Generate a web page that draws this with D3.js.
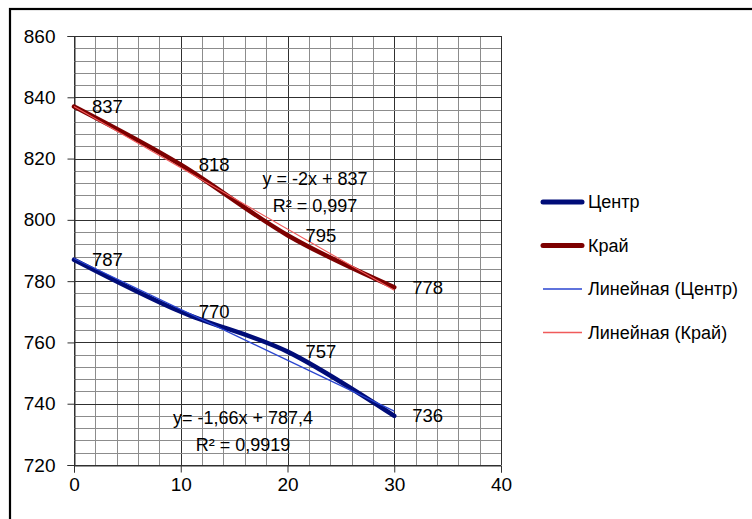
<!DOCTYPE html>
<html>
<head>
<meta charset="utf-8">
<script src="https://cdn.jsdelivr.net/npm/d3@7"></script>
<style>
  html, body { margin: 0; padding: 0; background: #fff; }
  svg { display: block; }
  text { font-family: "Liberation Sans", Arial, sans-serif; fill: #000; }
</style>
</head>
<body>
<svg id="chart" width="752" height="519"></svg>
<script>
// ---- data ----
const xValues = [0, 10, 20, 30];
const centerValues = [787, 770, 757, 736];
const edgeValues = [837, 818, 795, 778];
const seriesNames = ["Центр", "Край"];
const trendNames = ["Линейная (Центр)", "Линейная (Край)"];
const centerTrend = { slope: -1.66, intercept: 787.4 };
const edgeTrend = { slope: -2, intercept: 837 };
const centerEquation = ["y= -1,66x + 787,4", "R² = 0,9919"];
const edgeEquation = ["y = -2x + 837", "R² = 0,997"];
const xTicks = [0, 10, 20, 30, 40];
const yTicks = [720, 740, 760, 780, 800, 820, 840, 860];

// ---- layout ----
const svg = d3.select("#chart");
const plot = { left: 74, right: 501, top: 36, bottom: 465 };
const x = d3.scaleLinear().domain([0, 40]).range([plot.left, plot.right]);
const y = d3.scaleLinear().domain([720, 860]).range([plot.bottom, plot.top]);

const colCenter = "#000c78";
const colEdge = "#7d0000";
const colCenterTrend = "#2a45d0";
const colEdgeTrend = "#f05a5a";

// outer chart border (extends past the viewport on right/bottom)
svg.append("rect")
  .attr("x", 10).attr("y", 9).attr("width", 800).attr("height", 600)
  .attr("fill", "#fff").attr("stroke", "#000").attr("stroke-width", 2.2);

// gridlines
const g = svg.append("g");
d3.range(0, 40.001, 2).forEach(v => {
  const major = v % 10 === 0;
  g.append("line")
    .attr("x1", Math.round(x(v)) + 0.5).attr("x2", Math.round(x(v)) + 0.5)
    .attr("y1", plot.top).attr("y2", plot.bottom)
    .attr("stroke", major ? "#303030" : "#8c8c8c").attr("stroke-width", 1);
});
d3.range(720, 860.001, 4).forEach(v => {
  const major = v % 20 === 0;
  g.append("line")
    .attr("y1", Math.round(y(v)) + 0.5).attr("y2", Math.round(y(v)) + 0.5)
    .attr("x1", plot.left).attr("x2", plot.right)
    .attr("stroke", major ? "#303030" : "#8c8c8c").attr("stroke-width", 1);
});

// axes
const yAxis = d3.axisLeft(y).tickValues(yTicks).tickSize(7).tickPadding(12);
const xAxis = d3.axisBottom(x).tickValues(xTicks).tickSize(7).tickPadding(5);
const ya = svg.append("g").attr("transform", `translate(${plot.left + 0.5},0)`).call(yAxis);
const xa = svg.append("g").attr("transform", `translate(0,${plot.bottom + 0.5})`).call(xAxis);
[ya, xa].forEach(a => {
  a.select(".domain").attr("stroke", "#303030");
  a.selectAll(".tick line").attr("stroke", "#303030");
  a.selectAll("text").style("font-size", "19px").attr("fill", "#000");
});
xa.selectAll("text").attr("dy", "0.71em");

// series lines (smoothed)
const line = d3.line().x(d => x(d[0])).y(d => y(d[1])).curve(d3.curveCardinal.tension(0));
const centerData = xValues.map((v, i) => [v, centerValues[i]]);
const edgeData = xValues.map((v, i) => [v, edgeValues[i]]);

svg.append("path").datum(centerData).attr("d", line)
  .attr("fill", "none").attr("stroke", colCenter).attr("stroke-width", 4.5).attr("stroke-linecap", "round");
svg.append("path").datum(edgeData).attr("d", line)
  .attr("fill", "none").attr("stroke", colEdge).attr("stroke-width", 4.5).attr("stroke-linecap", "round");

// trendlines
function trendPts(t) {
  const x0 = d3.min(xValues), x1 = d3.max(xValues);
  return [[x0, t.intercept + t.slope * x0], [x1, t.intercept + t.slope * x1]];
}
const straight = d3.line().x(d => x(d[0])).y(d => y(d[1]));
svg.append("path").datum(trendPts(centerTrend)).attr("d", straight)
  .attr("fill", "none").attr("stroke", colCenterTrend).attr("stroke-width", 1.3);
svg.append("path").datum(trendPts(edgeTrend)).attr("d", straight)
  .attr("fill", "none").attr("stroke", colEdgeTrend).attr("stroke-width", 1.1);

// data labels
function labels(data) {
  svg.append("g").selectAll("text").data(data).join("text")
    .attr("x", d => x(d[0]) + 18)
    .attr("y", d => y(d[1]))
    .attr("dy", "0.35em")
    .style("font-size", "18.5px")
    .text(d => d[1]);
}
labels(centerData);
labels(edgeData);

// equations
function equation(lines, cx, cy) {
  svg.append("g").selectAll("text").data(lines).join("text")
    .attr("x", cx).attr("y", (d, i) => cy + i * 27)
    .attr("dy", "0.35em").attr("text-anchor", "middle")
    .style("font-size", "18px")
    .text(d => d);
}
equation(edgeEquation, 315, 179);
equation(centerEquation, 243, 418);

// legend
const legendItems = [
  { name: seriesNames[0], color: colCenter, w: 5 },
  { name: seriesNames[1], color: colEdge, w: 5 },
  { name: trendNames[0], color: colCenterTrend, w: 1.3 },
  { name: trendNames[1], color: colEdgeTrend, w: 1.3 }
];
const lg = svg.append("g");
legendItems.forEach((it, i) => {
  const cy = 202 + i * 43.5;
  lg.append("line").attr("x1", 543).attr("x2", 582).attr("y1", cy).attr("y2", cy)
    .attr("stroke", it.color).attr("stroke-width", it.w).attr("stroke-linecap", it.w > 2 ? "round" : "butt");
  lg.append("text").attr("x", 588).attr("y", cy).attr("dy", "0.35em")
    .style("font-size", "18px").text(it.name);
});
</script>
</body>
</html>
